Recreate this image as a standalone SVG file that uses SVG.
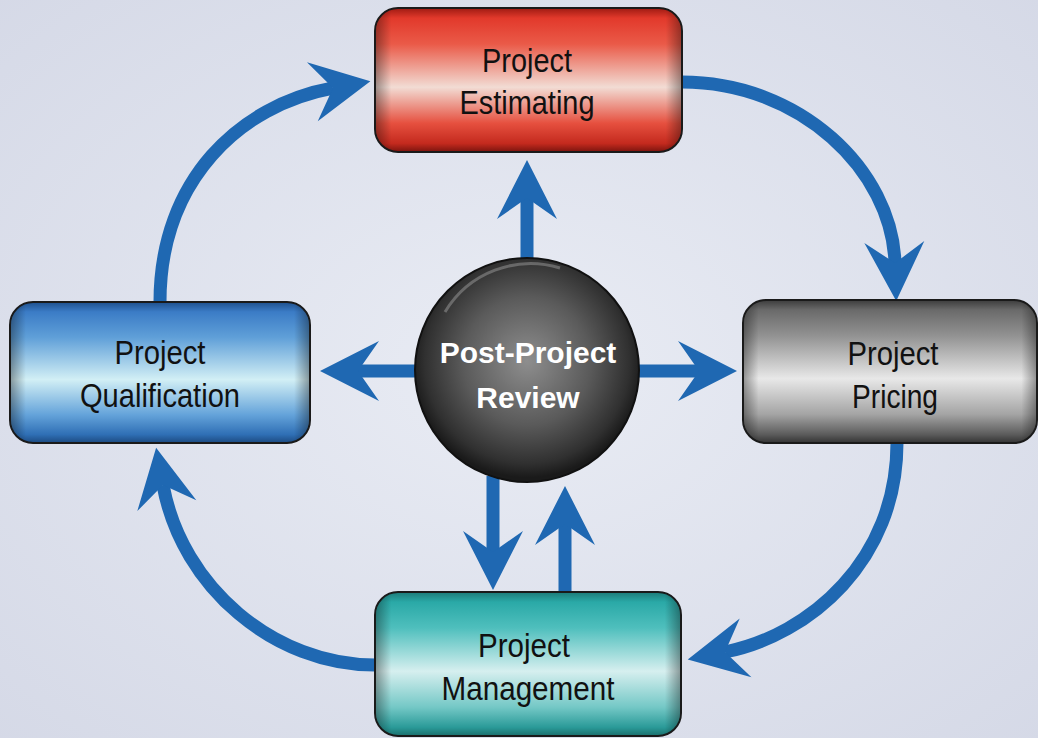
<svg xmlns="http://www.w3.org/2000/svg" width="1038" height="738" viewBox="0 0 1038 738">
<defs>
  <radialGradient id="bg" cx="50%" cy="50%" r="75%">
    <stop offset="0" stop-color="#e9ecf4"/>
    <stop offset="1" stop-color="#d4d8e6"/>
  </radialGradient>
  <linearGradient id="gRed" x1="0" y1="0" x2="0" y2="1">
    <stop offset="0" stop-color="#9e1a12"/>
    <stop offset="0.07" stop-color="#e2392b"/>
    <stop offset="0.25" stop-color="#ea5a48"/>
    <stop offset="0.55" stop-color="#f2dcd4"/>
    <stop offset="0.8" stop-color="#e6503f"/>
    <stop offset="0.94" stop-color="#c42a1e"/>
    <stop offset="1" stop-color="#7a140e"/>
  </linearGradient>
  <linearGradient id="gBlue" x1="0" y1="0" x2="0" y2="1">
    <stop offset="0" stop-color="#1e4f8c"/>
    <stop offset="0.07" stop-color="#3b7cc6"/>
    <stop offset="0.25" stop-color="#5f9fd8"/>
    <stop offset="0.55" stop-color="#d2eff5"/>
    <stop offset="0.8" stop-color="#64a3da"/>
    <stop offset="0.94" stop-color="#2f6fb5"/>
    <stop offset="1" stop-color="#1c4a80"/>
  </linearGradient>
  <linearGradient id="gGray" x1="0" y1="0" x2="0" y2="1">
    <stop offset="0" stop-color="#3c3c3c"/>
    <stop offset="0.07" stop-color="#6a6a6a"/>
    <stop offset="0.25" stop-color="#929292"/>
    <stop offset="0.55" stop-color="#e8e8e8"/>
    <stop offset="0.8" stop-color="#a4a4a4"/>
    <stop offset="0.94" stop-color="#5c5c5c"/>
    <stop offset="1" stop-color="#333333"/>
  </linearGradient>
  <linearGradient id="gTeal" x1="0" y1="0" x2="0" y2="1">
    <stop offset="0" stop-color="#1c7a78"/>
    <stop offset="0.07" stop-color="#2aa9a7"/>
    <stop offset="0.25" stop-color="#4fbfbd"/>
    <stop offset="0.55" stop-color="#d6efef"/>
    <stop offset="0.8" stop-color="#74c8c6"/>
    <stop offset="0.94" stop-color="#2a9a98"/>
    <stop offset="1" stop-color="#1a6e6c"/>
  </linearGradient>
  <linearGradient id="gEdge" x1="0" y1="0" x2="1" y2="0">
    <stop offset="0" stop-color="#000" stop-opacity="0.35"/>
    <stop offset="0.05" stop-color="#000" stop-opacity="0"/>
    <stop offset="0.95" stop-color="#000" stop-opacity="0"/>
    <stop offset="1" stop-color="#000" stop-opacity="0.35"/>
  </linearGradient>
  <radialGradient id="gBall" cx="50%" cy="46%" r="52%">
    <stop offset="0" stop-color="#8e8e8e"/>
    <stop offset="0.55" stop-color="#5a5a5a"/>
    <stop offset="0.88" stop-color="#303030"/>
    <stop offset="1" stop-color="#1a1a1a"/>
  </radialGradient>
  <marker id="head" markerUnits="userSpaceOnUse" viewBox="-60 -31 62 62" refX="-38" refY="0" markerWidth="62" markerHeight="62" orient="auto">
    <path d="M0,0 L-59,-30 L-38,0 L-59,30 Z" fill="#1f68b2"/>
  </marker>
  <style>
    .box { stroke: #1a1a1a; stroke-width: 2; }
    .edge { fill: url(#gEdge); }
    .lbl { font-family: "Liberation Sans", Arial, sans-serif; font-size: 34px; fill: #111; text-anchor: middle; }
    .ctr { font-family: "Liberation Sans", Arial, sans-serif; font-size: 30px; font-weight: bold; fill: #fff; text-anchor: middle; }
    .conn { fill: none; stroke: #1f68b2; stroke-width: 13; marker-end: url(#head); }
  </style>
</defs>

<rect x="0" y="0" width="1038" height="738" fill="url(#bg)"/>

<g id="connectors">
  <path class="conn" d="M160,302 C160,180 240,105 333,88"/>
  <path class="conn" d="M682,82 C800,82 892,170 895,263"/>
  <path class="conn" d="M897,443 C897,560 810,635 725,652"/>
  <path class="conn" d="M375,665 C275,665 182,588 163,485"/>
  <path class="conn" d="M527,259 L527,198"/>
  <path class="conn" d="M416,371 L358,371"/>
  <path class="conn" d="M639,371 L699,371"/>
  <path class="conn" d="M493,476 L493,552"/>
  <path class="conn" d="M565,592 L565,524"/>
</g>

<g id="estimating">
  <rect class="box" x="375" y="8" width="307" height="144" rx="23" fill="url(#gRed)"/>
  <rect x="376" y="9" width="305" height="142" rx="22" class="edge"/>
  <text class="lbl" x="527" y="72" textLength="90" lengthAdjust="spacingAndGlyphs">Project</text>
  <text class="lbl" x="527" y="114" textLength="135" lengthAdjust="spacingAndGlyphs">Estimating</text>
</g>

<g id="qualification">
  <rect class="box" x="10" y="302" width="300" height="141" rx="23" fill="url(#gBlue)"/>
  <rect x="11" y="303" width="298" height="139" rx="22" class="edge"/>
  <text class="lbl" x="160" y="364" textLength="91" lengthAdjust="spacingAndGlyphs">Project</text>
  <text class="lbl" x="160" y="407" textLength="160" lengthAdjust="spacingAndGlyphs">Qualification</text>
</g>

<g id="pricing">
  <rect class="box" x="743" y="300" width="294" height="143" rx="23" fill="url(#gGray)"/>
  <rect x="744" y="301" width="292" height="141" rx="22" class="edge"/>
  <text class="lbl" x="893" y="365" textLength="91" lengthAdjust="spacingAndGlyphs">Project</text>
  <text class="lbl" x="895" y="408" textLength="86" lengthAdjust="spacingAndGlyphs">Pricing</text>
</g>

<g id="management">
  <rect class="box" x="375" y="592" width="306" height="144" rx="23" fill="url(#gTeal)"/>
  <rect x="376" y="593" width="304" height="142" rx="22" class="edge"/>
  <text class="lbl" x="524" y="657" textLength="92" lengthAdjust="spacingAndGlyphs">Project</text>
  <text class="lbl" x="528" y="700" textLength="173" lengthAdjust="spacingAndGlyphs">Management</text>
</g>

<g id="review">
  <circle cx="527" cy="370" r="112" fill="url(#gBall)" stroke="#111" stroke-width="2"/>
  <path d="M445,312 A100,100 0 0 1 560,268" fill="none" stroke="#fff" stroke-opacity="0.25" stroke-width="3"/>
  <text class="ctr" x="528" y="363">Post-Project</text>
  <text class="ctr" x="528" y="408">Review</text>
</g>
</svg>
